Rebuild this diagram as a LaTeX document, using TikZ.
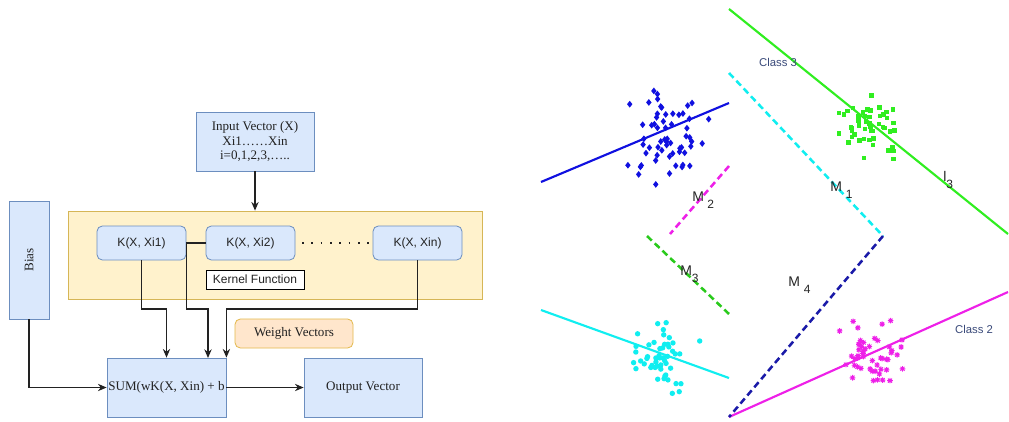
\documentclass[tikz,border=0pt]{standalone}
\usepackage{fontspec}
\setmainfont{Liberation Serif}
\setsansfont{Liberation Sans}
\usetikzlibrary{arrows.meta}
\definecolor{bfill}{HTML}{DAE8FC}
\definecolor{bdraw}{HTML}{6C8EBF}
\definecolor{yfill}{HTML}{FFF2CC}
\definecolor{ydraw}{HTML}{D6B656}
\definecolor{ofill}{HTML}{FFE6CC}
\definecolor{odraw}{HTML}{D79B00}
\definecolor{txt}{HTML}{222222}
\definecolor{lnk}{HTML}{222222}
\definecolor{cblue}{HTML}{1010E0}
\definecolor{cgreen}{HTML}{30EE20}
\definecolor{ccyan}{HTML}{10EEF0}
\definecolor{cmag}{HTML}{EE20E8}
\definecolor{cnavy}{HTML}{1A1AA8}
\definecolor{lbl}{HTML}{3A4A7A}
\begin{document}
\begin{tikzpicture}[x=0.75pt,y=-0.75pt,
  sbox/.style={draw=bdraw,fill=bfill,line width=0.6pt,inner sep=0pt,align=center,
    text=txt,font=\fontsize{9.8}{11}\selectfont},
  kbox/.style={draw=bdraw,fill=bfill,line width=0.6pt,rounded corners=4pt,inner sep=0pt,
    text=txt,font=\sffamily\fontsize{9}{11}\selectfont,minimum width=66.75pt,minimum height=25.5pt},
  arr/.style={draw=lnk,line width=0.85pt,-{Stealth[length=6.5pt,width=5.5pt]}},
  solidl/.style={line width=1.6pt},
  dashl/.style={line width=1.9pt,dash pattern=on 5pt off 3pt},
  mlab/.style={font=\sffamily\fontsize{10.5}{12}\selectfont,text=black!85,inner sep=0pt},
  clab/.style={font=\sffamily\fontsize{8.5}{10}\selectfont,text=lbl,inner sep=0pt}]
\useasboundingbox (0,0) rectangle (1009,421);
\fill[white] (0,0) rectangle (1009,421);

% ---------- left: block diagram ----------
\node[draw=ydraw,fill=yfill,line width=0.6pt,minimum width=310.5pt,minimum height=66pt,inner sep=0pt] (yel) at (275,255) {};
\node[sbox,minimum width=88.5pt,minimum height=44.25pt] (inp) at (255,141.5) {Input Vector (X)\\Xi1\ldots\ldots Xin\\i=0,1,2,3,\ldots..};
\node[sbox,minimum width=30pt,minimum height=88.5pt] (bias) at (29,260) {\rotatebox{90}{Bias}};
\node[kbox] (k1) at (141.5,243) {K(X, Xi1)};
\node[kbox] (k2) at (250.5,243) {K(X, Xi2)};
\node[kbox] (kn) at (417.5,243) {K(X, Xin)};
\node[draw=black,fill=white,line width=0.7pt,minimum width=73.5pt,minimum height=14.25pt,inner sep=0pt,
  font=\sffamily\fontsize{9}{11}\selectfont,text=txt] (kf) at (255,279.5) {Kernel Function};
\node[draw=odraw!70,fill=ofill,line width=0.6pt,rounded corners=4pt,minimum width=88.5pt,minimum height=21.75pt,
  inner sep=0pt,font=\fontsize{9.8}{11}\selectfont,text=txt] (wv) at (294,333.5) {Weight Vectors};
\node[sbox,minimum width=89.25pt,minimum height=44.25pt] (sum) at (166.5,387.5) {SUM(wK(X, Xin) + b};
\node[sbox,minimum width=88.5pt,minimum height=44.25pt] (out) at (363,387.5) {Output Vector};

\coordinate (lv) at (0,309);
\coordinate (s2) at (208,358);
\draw[arr] (inp.south) -- (inp.south |- yel.north);
\draw[lnk,line width=1.3pt,dash pattern=on 1.3pt off 5.7pt] ([xshift=5pt]k2.east) -- (kn.west);
\draw[arr] (k1.south) |- (sum.north |- lv) -- (sum.north);
\draw[arr] (k2.west) -- (k1.east) -- (k1.east |- lv) -| (s2);
\draw[arr] (kn.south) -- (kn.south |- lv) -| (sum.north east);
\draw[arr] (bias.south) |- (sum.west);
\draw[arr] (sum.east) -- (out.west);

% ---------- right: classes ----------
\pgfmathsetseed{7}
% blue diamonds
\foreach \i in {1,...,60}{
  \pgfmathsetmacro\px{666+18*(rand+rand+rand)}
  \pgfmathsetmacro\py{130+22*(rand+rand+rand)}
  \fill[cblue] (\px,\py) +(0,-3.4) -- +(2.7,0) -- +(0,3.4) -- +(-2.7,0) -- cycle;
}
% green squares
\foreach \i in {1,...,50}{
  \pgfmathsetmacro\px{868+16*(rand+rand+rand)}
  \pgfmathsetmacro\py{126+14*(rand+rand+rand)}
  \fill[cgreen] (\px,\py) +(-2.2,-2.2) rectangle +(2.2,2.2);
}
% cyan circles
\foreach \i in {1,...,50}{
  \pgfmathsetmacro\px{666+15*(rand+rand+rand)}
  \pgfmathsetmacro\py{355+18*(rand+rand+rand)}
  \fill[ccyan] (\px,\py) circle (2.7);
}
% magenta stars
\foreach \i in {1,...,50}{
  \pgfmathsetmacro\px{871+15*(rand+rand+rand)}
  \pgfmathsetmacro\py{352+16*(rand+rand+rand)}
  \fill[cmag] (\px,\py) circle (1.8);
  \draw[cmag,line width=0.7pt] (\px,\py) +(-2.8,0) -- +(2.8,0) +(0,-2.8) -- +(0,2.8)
     +(-2,-2) -- +(2,2) +(-2,2) -- +(2,-2);
}

% solid class lines
\draw[cgreen,solidl] (729,9) -- (1008,234);
\draw[cblue,solidl] (541,182) -- (729,103);
\draw[ccyan,solidl] (541,310) -- (729,378);
\draw[cmag,solidl] (729,417) -- (1008,292);
% dashed margins
\draw[ccyan,dashl] (729,73) -- (883,236);
\draw[cnavy,dashl] (883,236) -- (729,417);
\draw[cmag,dashl] (729,166) -- (670,234);
\draw[cgreen!85!black,dashl] (647,236) -- (729,314);

% labels
\node[clab] (c3) at (778,62) {Class 3};
\node[clab] (c2) at (974,329) {Class 2};
\node[mlab,anchor=west] (m1) at (830,190) {M\hspace{3pt}\raisebox{-5.5pt}{\fontsize{9}{10}\selectfont 1}};
\node[mlab,anchor=west] (m2) at (692,200) {M\hspace{2.5pt}\raisebox{-5.5pt}{\fontsize{9}{10}\selectfont 2}};
\node[mlab,anchor=west] (m3) at (680,274.5) {M\raisebox{-5.5pt}{\fontsize{9}{10}\selectfont 3}};
\node[mlab,anchor=west] (m4) at (788,285) {M\hspace{3pt}\raisebox{-5.5pt}{\fontsize{9}{10}\selectfont 4}};
\node[mlab,anchor=west] (l3) at (943,180) {l\raisebox{-5.5pt}{\fontsize{9}{10}\selectfont 3}};
\end{tikzpicture}
\end{document}
